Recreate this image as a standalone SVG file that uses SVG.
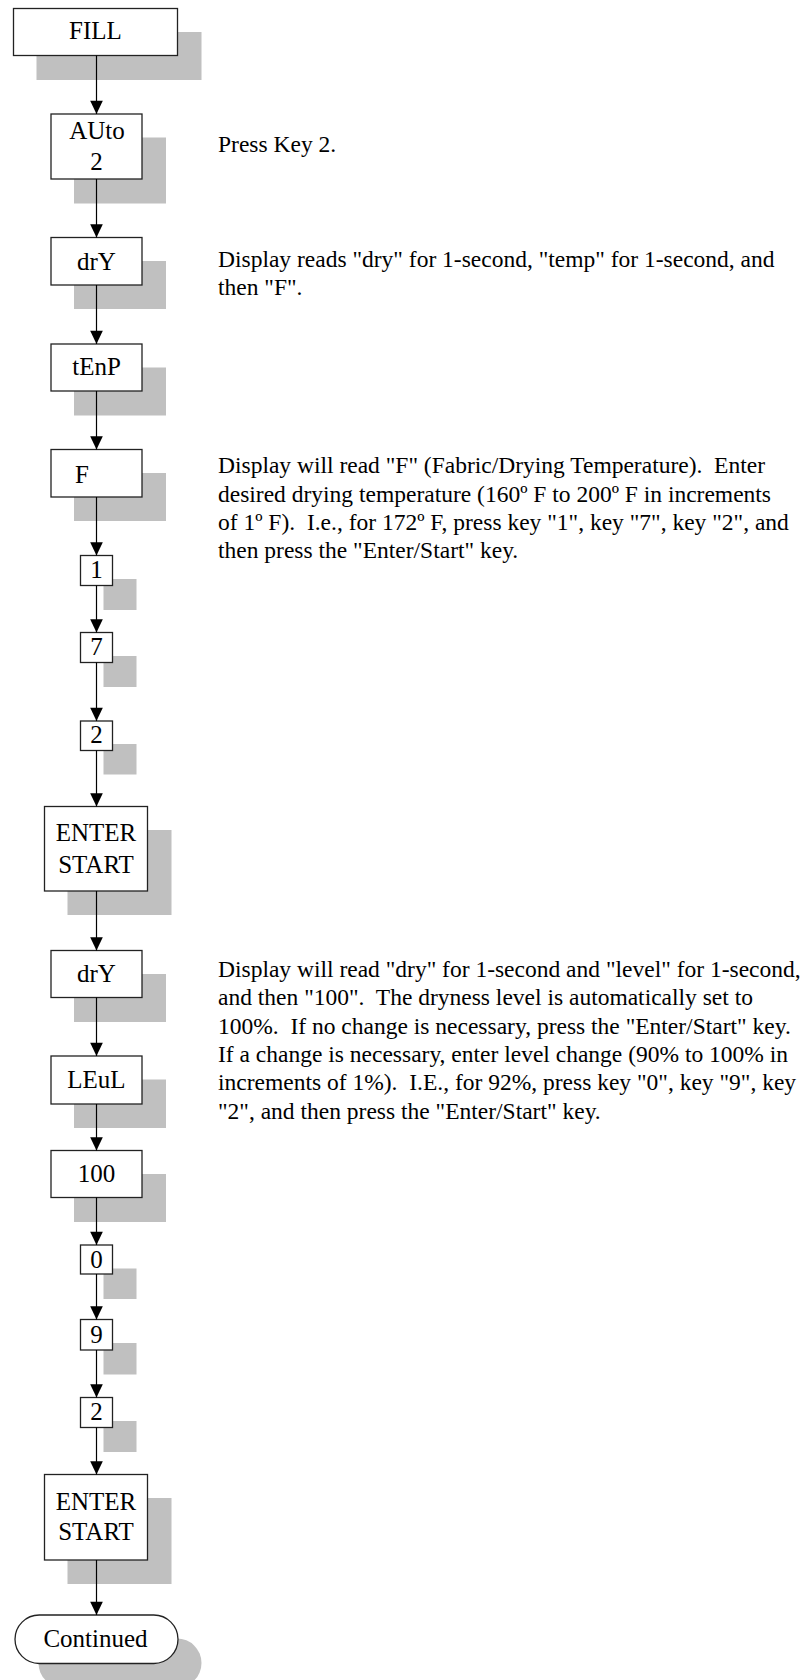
<svg xmlns="http://www.w3.org/2000/svg" width="806" height="1680" viewBox="0 0 806 1680">
<style>
  .sh { fill: #c0c0c0; stroke: none; }
  .bx { fill: #ffffff; stroke: #222222; stroke-width: 1.3; }
  .lb { font-family: "Liberation Serif", "Times New Roman", serif; font-size: 25px; fill: #000000; text-anchor: middle; }
  .ds { font-family: "Liberation Serif", "Times New Roman", serif; font-size: 23.5px; fill: #000000; white-space: pre; }
  .cn { stroke: #000000; stroke-width: 1.2; fill: none; marker-end: url(#arr); }
</style>
<defs>
  <marker id="arr" viewBox="0 0 14 14" refX="14" refY="6.65" markerWidth="14" markerHeight="13.3" markerUnits="userSpaceOnUse" orient="auto">
    <path d="M0,0 L14,6.65 L0,13.3 z" fill="#000000"/>
  </marker>
</defs>
<rect width="806" height="1680" fill="#ffffff"/>

<g id="node-fill">
  <rect class="sh" x="36.5" y="32" width="165" height="48"/>
  <rect class="bx" x="13.5" y="8.5" width="164" height="47"/>
  <text class="lb" x="95.5" y="39">FILL</text>
</g>
<g id="node-auto">
  <rect class="sh" x="74" y="137.5" width="92" height="66"/>
  <rect class="bx" x="51" y="114" width="91" height="65"/>
  <text class="lb" x="97" y="138.5">AUto</text>
  <text class="lb" x="96.5" y="170">2</text>
</g>
<g id="node-dry1">
  <rect class="sh" x="74" y="261" width="92" height="48"/>
  <rect class="bx" x="51" y="237.5" width="91" height="47.5"/>
  <text class="lb" x="96.5" y="269.5">drY</text>
</g>
<g id="node-tenp">
  <rect class="sh" x="74" y="367.5" width="92" height="48"/>
  <rect class="bx" x="51" y="344" width="91" height="47"/>
  <text class="lb" x="96.5" y="375">tEnP</text>
</g>
<g id="node-f">
  <rect class="sh" x="74" y="473" width="92" height="48"/>
  <rect class="bx" x="51" y="449.5" width="91" height="47.5"/>
  <text class="lb" x="75" y="482.5" style="text-anchor:start">F</text>
</g>
<g id="node-k1">
  <rect class="sh" x="103.5" y="579" width="33" height="31"/>
  <rect class="bx" x="80.5" y="555.5" width="32" height="30"/>
  <text class="lb" x="96.5" y="578">1</text>
</g>
<g id="node-k7">
  <rect class="sh" x="103.5" y="656" width="33" height="31"/>
  <rect class="bx" x="80.5" y="632.5" width="32" height="30"/>
  <text class="lb" x="96.5" y="655">7</text>
</g>
<g id="node-k2">
  <rect class="sh" x="103.5" y="744" width="33" height="30.5"/>
  <rect class="bx" x="80.5" y="721" width="32" height="29.5"/>
  <text class="lb" x="96.5" y="742.5">2</text>
</g>
<g id="node-enter1">
  <rect class="sh" x="67.5" y="830" width="104" height="85"/>
  <rect class="bx" x="44.5" y="806.5" width="103" height="84.5"/>
  <text class="lb" x="96" y="841">ENTER</text>
  <text class="lb" x="96" y="872.5">START</text>
</g>
<g id="node-dry2">
  <rect class="sh" x="74" y="974" width="92" height="48"/>
  <rect class="bx" x="51" y="950.5" width="91" height="47"/>
  <text class="lb" x="96.5" y="982">drY</text>
</g>
<g id="node-leul">
  <rect class="sh" x="74" y="1079.5" width="92" height="48.5"/>
  <rect class="bx" x="51" y="1056" width="91" height="48"/>
  <text class="lb" x="96.5" y="1088">LEuL</text>
</g>
<g id="node-100">
  <rect class="sh" x="74" y="1174" width="92" height="48"/>
  <rect class="bx" x="51" y="1150.5" width="91" height="47"/>
  <text class="lb" x="96.5" y="1182">100</text>
</g>
<g id="node-k0">
  <rect class="sh" x="103.5" y="1268.5" width="33" height="30.5"/>
  <rect class="bx" x="80.5" y="1245" width="32" height="29"/>
  <text class="lb" x="96.5" y="1267.5">0</text>
</g>
<g id="node-k9">
  <rect class="sh" x="103.5" y="1343" width="33" height="31.5"/>
  <rect class="bx" x="80.5" y="1319.5" width="32" height="30.5"/>
  <text class="lb" x="96.5" y="1343">9</text>
</g>
<g id="node-k2b">
  <rect class="sh" x="103.5" y="1421" width="33" height="31"/>
  <rect class="bx" x="80.5" y="1397.5" width="32" height="30"/>
  <text class="lb" x="96.5" y="1420">2</text>
</g>
<g id="node-enter2">
  <rect class="sh" x="67.5" y="1498" width="104" height="86"/>
  <rect class="bx" x="44.5" y="1474.5" width="103" height="85.5"/>
  <text class="lb" x="96" y="1510">ENTER</text>
  <text class="lb" x="96" y="1540">START</text>
</g>
<g id="node-continued">
  <rect class="sh" x="38.5" y="1638.5" width="163" height="49" rx="24.5" ry="24.5"/>
  <rect class="bx" x="15" y="1615" width="163" height="48.5" rx="24.25" ry="24.25"/>
  <text class="lb" x="95.5" y="1647">Continued</text>
</g>

<g id="connectors">
  <line class="cn" x1="96.5" y1="55.5" x2="96.5" y2="114"/>
  <line class="cn" x1="96.5" y1="179" x2="96.5" y2="237.5"/>
  <line class="cn" x1="96.5" y1="285" x2="96.5" y2="344"/>
  <line class="cn" x1="96.5" y1="391" x2="96.5" y2="449.5"/>
  <line class="cn" x1="96.5" y1="497" x2="96.5" y2="555.5"/>
  <line class="cn" x1="96.5" y1="585.5" x2="96.5" y2="632.5"/>
  <line class="cn" x1="96.5" y1="662.5" x2="96.5" y2="721"/>
  <line class="cn" x1="96.5" y1="750.5" x2="96.5" y2="806.5"/>
  <line class="cn" x1="96.5" y1="891" x2="96.5" y2="950.5"/>
  <line class="cn" x1="96.5" y1="997.5" x2="96.5" y2="1056"/>
  <line class="cn" x1="96.5" y1="1104" x2="96.5" y2="1150.5"/>
  <line class="cn" x1="96.5" y1="1197.5" x2="96.5" y2="1245"/>
  <line class="cn" x1="96.5" y1="1274" x2="96.5" y2="1319.5"/>
  <line class="cn" x1="96.5" y1="1350" x2="96.5" y2="1397.5"/>
  <line class="cn" x1="96.5" y1="1427.5" x2="96.5" y2="1474.5"/>
  <line class="cn" x1="96.5" y1="1560" x2="96.5" y2="1615"/>
</g>

<g id="descriptions">
  <text class="ds" x="218" y="152">Press Key 2.</text>
  <text class="ds" x="218" y="266.7">Display reads "dry" for 1-second, "temp" for 1-second, and</text>
  <text class="ds" x="218" y="295">then "F".</text>
  <text class="ds" x="218" y="473.3">Display will read "F" (Fabric/Drying Temperature).  Enter</text>
  <text class="ds" x="218" y="501.7">desired drying temperature (160º F to 200º F in increments</text>
  <text class="ds" x="218" y="530">of 1º F).  I.e., for 172º F, press key "1", key "7", key "2", and</text>
  <text class="ds" x="218" y="558.3">then press the "Enter/Start" key.</text>
  <text class="ds" x="218" y="977">Display will read "dry" for 1-second and "level" for 1-second,</text>
  <text class="ds" x="218" y="1005.3">and then "100".  The dryness level is automatically set to</text>
  <text class="ds" x="218" y="1033.7">100%.  If no change is necessary, press the "Enter/Start" key.</text>
  <text class="ds" x="218" y="1062">If a change is necessary, enter level change (90% to 100% in</text>
  <text class="ds" x="218" y="1090.3">increments of 1%).  I.E., for 92%, press key "0", key "9", key</text>
  <text class="ds" x="218" y="1118.7">"2", and then press the "Enter/Start" key.</text>
</g>
</svg>
